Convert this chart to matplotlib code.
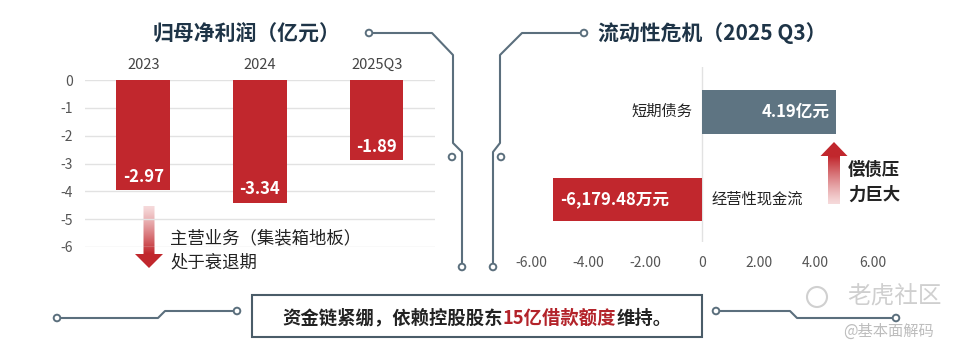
import matplotlib
matplotlib.use("Agg")
import matplotlib.pyplot as plt
import numpy as np
from matplotlib.patches import Polygon, Rectangle, Circle
from matplotlib.lines import Line2D

plt.rcParams['font.family'] = ['Noto Sans CJK SC', 'DejaVu Sans']

# ---------------- data ----------------
profit_periods = ["2023", "2024", "2025Q3"]
profit_labels = ["-2.97", "-3.34", "-1.89"]          # values printed on bars (亿元)
profit_bar_depth = [-3.97, -4.42, -2.89]             # bar lengths as drawn in the picture
profit_yticks = [0, -1, -2, -3, -4, -5, -6]

liq_categories = ["短期债务", "经营性现金流"]
liq_labels = ["4.19亿元", "-6,179.48万元"]
liq_bar_len = [4.72, -5.25]                          # bar lengths as drawn in the picture
liq_xticks = [-6, -4, -2, 0, 2, 4, 6]
liq_xticklabels = ["-6.00", "-4.00", "-2.00", "0", "2.00", "4.00", "6.00"]

RED = "#C1272D"
SLATE = "#5E7482"
NAVY = "#1E3447"
LINE = "#5B6F7D"
TXT = "#222222"
TICK = "#555555"

W, H = 960, 353
fig = plt.figure(figsize=(W / 100, H / 100), dpi=100)
fig.patch.set_facecolor("white")


def ax_rect(x0, y0, x1, y1):
    return [x0 / W, 1 - y1 / H, (x1 - x0) / W, (y1 - y0) / H]


# overlay for decorations (pixel coordinates)
ov = fig.add_axes([0, 0, 1, 1])
ov.set_xlim(0, W)
ov.set_ylim(H, 0)
ov.axis("off")

# ---------------- left chart ----------------
axl = fig.add_axes(ax_rect(85, 80, 435, 247))
axl.set_facecolor("none")
xs = np.arange(len(profit_periods))
for y in profit_yticks:
    axl.axhline(y, color="#E2E2E2", lw=1, zorder=0)
axl.bar(xs, profit_bar_depth, width=0.46, color=RED, zorder=2)
for x, d, lab in zip(xs, profit_bar_depth, profit_labels):
    axl.text(x, d + 0.5, lab, ha="center", va="center", color="white",
             fontsize=12, fontweight="bold", zorder=3)
axl.set_xlim(-0.5, 2.5)
axl.set_ylim(-6, 0)
axl.set_yticks(profit_yticks)
axl.set_yticklabels([str(v) for v in profit_yticks])
axl.set_xticks(xs)
axl.set_xticklabels(profit_periods)
axl.xaxis.tick_top()
axl.tick_params(axis="x", length=0, pad=6, labelsize=10.5, labelcolor="#444444")
axl.tick_params(axis="y", length=0, pad=9, labelsize=10, labelcolor=TICK)
for s in axl.spines.values():
    s.set_visible(False)

# ---------------- right chart ----------------
axr = fig.add_axes(ax_rect(517.4, 67, 886.6, 242))
axr.set_facecolor("none")
ys = [1, 0]
axr.axvline(0, color="#E2E2E2", lw=1, zorder=0)
axr.barh(ys, liq_bar_len, height=0.5, color=[SLATE, RED], zorder=2)
axr.text(liq_bar_len[0] - 0.22, ys[0], liq_labels[0], ha="right", va="center",
         color="white", fontsize=12, fontweight="bold", zorder=3)
axr.text(liq_bar_len[1] + 0.25, ys[1], liq_labels[1], ha="left", va="center",
         color="white", fontsize=12, fontweight="bold", zorder=3)
axr.text(-0.32, ys[0], liq_categories[0], ha="right", va="center",
         color=TXT, fontsize=11)
axr.text(0.35, ys[1], liq_categories[1], ha="left", va="center",
         color=TXT, fontsize=11)
axr.set_xlim(-6.5, 6.5)
axr.set_ylim(-0.483, 1.506)
axr.set_xticks(liq_xticks)
axr.set_xticklabels(liq_xticklabels)
axr.set_yticks([])
axr.tick_params(axis="x", length=0, pad=10, labelsize=10, labelcolor=TICK)
for s in axr.spines.values():
    s.set_visible(False)

# ---------------- titles ----------------
ov.text(247, 33, "归母净利润（亿元）", ha="center", va="center",
        fontsize=15, fontweight="bold", color=NAVY)
ov.text(598, 33, "流动性危机（2025 Q3）", ha="left", va="center",
        fontsize=15, fontweight="bold", color=NAVY)

# ---------------- circuit lines ----------------
def circuit(pts):
    xx, yy = zip(*pts)
    ov.add_line(Line2D(xx, yy, color=LINE, lw=1.5, solid_capstyle="round"))


def node(x, y):
    ov.add_patch(Circle((x, y), 3.3, facecolor="white", edgecolor=LINE, lw=1.4, zorder=5))


circuit([(372, 33), (432, 33), (453, 55), (453, 143), (462, 152), (462, 267)])
node(369, 33); node(462, 267); node(452, 157)
circuit([(581, 33), (522, 33), (500, 55), (500, 143), (493, 152), (493, 267)])
node(584, 33); node(493, 267); node(501, 157)
circuit([(57, 318), (158, 318), (165, 311), (237, 311)])
node(57, 318); node(237, 311)
circuit([(716, 311), (790, 311), (797, 318), (896, 318)])
node(716, 311); node(896, 318)

# ---------------- gradient arrows ----------------
def grad_arrow(cx, y_top, y_bot, shaft_w, head_w, head_h, pointing_down):
    if pointing_down:
        verts = [(cx - shaft_w / 2, y_top), (cx + shaft_w / 2, y_top),
                 (cx + shaft_w / 2, y_bot - head_h), (cx + head_w / 2, y_bot - head_h),
                 (cx, y_bot), (cx - head_w / 2, y_bot - head_h),
                 (cx - shaft_w / 2, y_bot - head_h)]
    else:
        verts = [(cx - shaft_w / 2, y_bot), (cx + shaft_w / 2, y_bot),
                 (cx + shaft_w / 2, y_top + head_h), (cx + head_w / 2, y_top + head_h),
                 (cx, y_top), (cx - head_w / 2, y_top + head_h),
                 (cx - shaft_w / 2, y_top + head_h)]
    poly = Polygon(verts, closed=True, facecolor="none", edgecolor="none")
    ov.add_patch(poly)
    n = 100
    t = np.linspace(0, 1, n)
    if not pointing_down:
        t = t[::-1]
    red = np.array([0xC1, 0x27, 0x2D]) / 255
    light = np.array([0xF6, 0xDA, 0xDB]) / 255
    t2 = np.clip(t * 1.3, 0, 1) ** 1.2
    cols = light[None, :] * (1 - t2[:, None]) + red[None, :] * t2[:, None]
    img = cols[:, None, :]
    im = ov.imshow(img, extent=(cx - head_w / 2 - 1, cx + head_w / 2 + 1, y_bot, y_top),
                   origin="upper", aspect="auto", zorder=4, interpolation="bilinear")
    im.set_clip_path(poly)


grad_arrow(149, 206, 268, 11, 28, 14, True)
grad_arrow(834, 142, 204, 12, 27, 14, False)
ov.set_xlim(0, W)
ov.set_ylim(H, 0)

ov.text(170, 238, "主营业务（集装箱地板）", ha="left", va="center",
        fontsize=12.5, color=TXT, fontweight="medium")
ov.text(170, 262, "处于衰退期", ha="left", va="center",
        fontsize=12.5, color=TXT, fontweight="medium")
ov.text(848, 170, "偿债压", ha="left", va="center", fontsize=12.5,
        color=TXT, fontweight="bold")
ov.text(848, 195, "力巨大", ha="left", va="center", fontsize=12.5,
        color=TXT, fontweight="bold")

# ---------------- bottom box ----------------
ov.add_patch(Rectangle((252, 295), 450, 42, facecolor="white", edgecolor="#4A5C68",
                       lw=1.5, zorder=3))
parts = [("资金链紧绷，依赖控股股东", TXT), ("15亿借款额度", "#B3232A"), ("维持。", TXT)]
fig.canvas.draw()
renderer = fig.canvas.get_renderer()
texts = []
total = 0
for s, c in parts:
    t = ov.text(0, 318, s, ha="left", va="center", fontsize=13.2, fontweight="bold",
                color=c, zorder=6)
    bb = t.get_window_extent(renderer)
    texts.append((t, bb.width))
    total += bb.width
x = 477 - total / 2
for t, w in texts:
    t.set_x(x)
    x += w

# ---------------- watermark ----------------
ov.add_patch(Circle((817, 297), 10, facecolor="none", edgecolor="#D0D0D0", lw=1.5))
ov.text(847, 297, "老虎社区", ha="left", va="center", fontsize=17, color="#CFCFCF")
ov.text(843, 331, "@基本面解码", ha="left", va="center", fontsize=11, color="#BDBDBD")

fig.savefig("out.png", dpi=100, facecolor="white")
